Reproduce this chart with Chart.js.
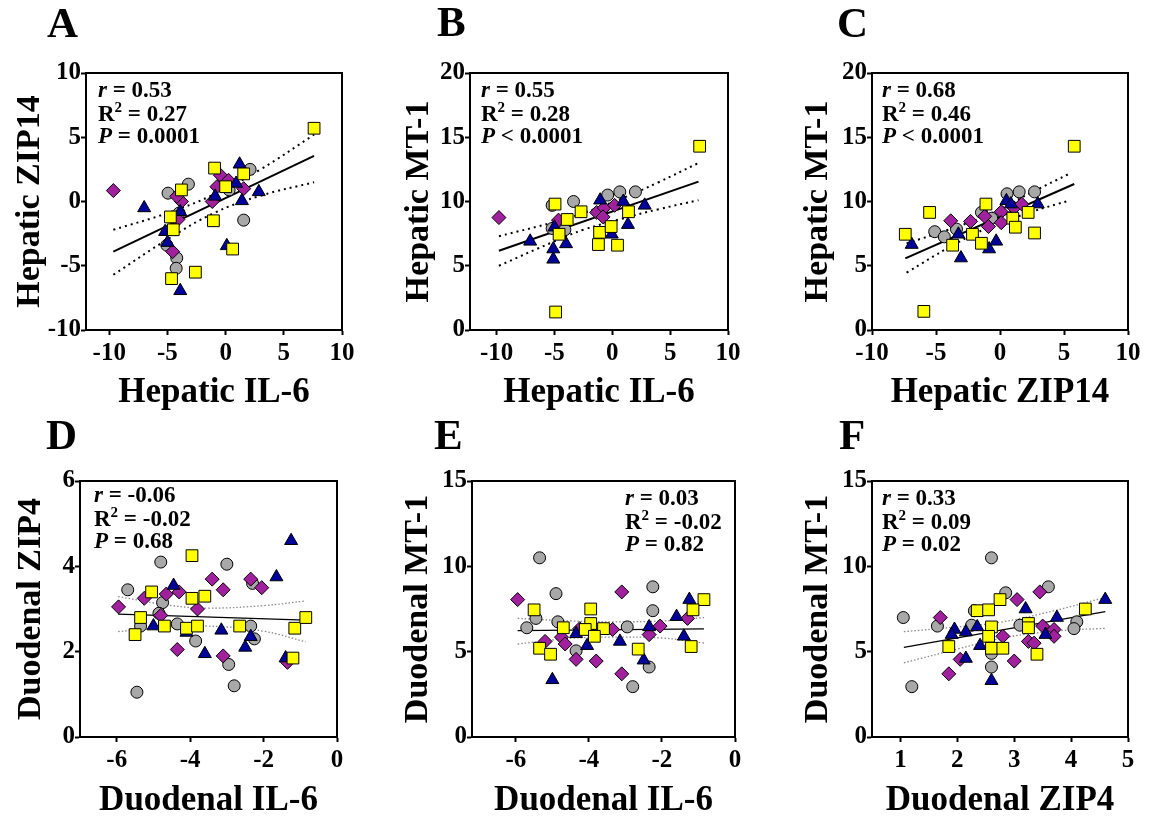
<!DOCTYPE html>
<html>
<head>
<meta charset="utf-8">
<script src="https://cdn.jsdelivr.net/npm/chart.js@4.4.1/dist/chart.umd.min.js"></script>
<style>
  body { margin: 0; background: #fff; width: 1151px; height: 819px; position: relative; overflow: hidden; }
  canvas { position: absolute; }
</style>
</head>
<body>
<canvas id="cA"></canvas>
<canvas id="cB"></canvas>
<canvas id="cC"></canvas>
<canvas id="cD"></canvas>
<canvas id="cE"></canvas>
<canvas id="cF"></canvas>
<script>
// ---- data ----
// groups: gray circles, purple diamonds, blue triangles, yellow squares
const aGray   = [[2.1,2.5],[-3.2,1.35],[-4.95,0.65],[1.55,-1.45],[0.3,0.9],[-4.2,-4.4],[-4.25,-5.2],[-5.05,-3.4],[-4.0,-0.9]]
const aPurple = [[-9.65,0.85],[-3.8,0.0],[-4.2,0.4],[-4.1,-1.4],[-4.55,-3.9],[-0.45,2.05],[0.25,1.65],[-0.75,1.15],[-1.15,0.0],[1.55,1.0]]
const aBlue   = [[1.2,2.9],[-7.0,-0.5],[1.4,0.05],[2.85,0.75],[0.1,-3.45],[-3.9,-6.95],[-5.2,-2.35],[-5.0,-3.2],[-3.9,-0.8],[0.9,1.4],[-0.9,0.4]]
const aYellow = [[-0.95,2.6],[1.55,2.15],[-3.8,0.9],[0.0,1.15],[-4.75,-1.2],[-4.5,-2.2],[-1.05,-1.5],[0.6,-3.7],[-2.6,-5.5],[-4.65,-6.0],[7.6,5.7]]
const aFit    = [[-9.65,-3.9],[7.6,3.55]]
const aUpper  = [[-9.65,-2.2],[-5,-0.9],[-1,0.55],[3,2.5],[7.6,5.2]]
const aLower  = [[-9.65,-5.7],[-5,-2.95],[-1,-0.9],[3,0.45],[7.6,1.5]]

const bGray   = [[-3.35,10.0],[-0.4,10.5],[0.65,10.75],[2.0,10.75],[-5.2,7.9],[-5.2,9.7],[-4.1,7.8]]
const bPurple = [[-9.8,8.75],[-4.65,8.55],[-1.35,9.15],[-0.7,9.5],[0.2,9.7],[-0.8,8.8]]
const bBlue   = [[-7.1,6.9],[-5.1,6.3],[-5.1,5.5],[-4.0,6.7],[2.8,9.7],[1.35,8.2],[-1.05,10.1],[-0.05,7.45],[0.95,10.0],[-5.0,8.0]]
const bYellow = [[7.55,14.3],[-4.95,9.8],[-3.9,8.6],[-2.7,9.2],[-4.6,7.45],[-1.1,7.6],[-1.2,6.65],[-0.1,8.05],[0.45,6.6],[1.4,9.2],[-4.9,1.4]]
const bFit    = [[-9.8,6.17],[7.45,11.55]]
const bUpper  = [[-9.8,7.3],[-5,8.4],[-2.5,9.1],[1,10.3],[4,11.5],[7.45,13.0]]
const bLower  = [[-9.8,5.0],[-5,6.9],[-2.5,7.8],[1,8.7],[4,9.4],[7.45,10.1]]

const cGray   = [[-5.1,7.65],[-4.35,7.25],[-3.4,7.85],[0.55,10.6],[1.5,10.75],[2.7,10.75],[-1.45,9.15],[-0.65,8.7]]
const cPurple = [[-3.85,8.5],[-2.3,8.45],[-1.2,8.85],[-0.9,8.05],[0.1,9.2],[0.1,8.35],[1.1,9.5],[1.7,9.8]]
const cBlue   = [[-6.9,6.65],[-3.05,5.6],[-3.25,7.45],[-0.85,6.3],[-0.3,6.9],[0.5,10.05],[0.85,9.8],[2.95,9.8]]
const cYellow = [[5.8,14.3],[-5.5,9.15],[-7.4,7.45],[-1.1,9.8],[-2.15,7.45],[-3.7,6.6],[-1.45,6.75],[1.0,8.7],[1.2,8.0],[2.2,9.15],[2.7,7.55],[-5.95,1.45]]
const cFit    = [[-7.4,5.58],[5.8,11.36]]
const cUpper  = [[-7.3,6.74],[-4,7.82],[-1,8.93],[2.5,10.72],[5.5,12.2]]
const cLower  = [[-7.3,4.46],[-4,6.42],[-1,7.93],[2.5,9.2],[5.5,10.1]]

const dGray   = [[-4.8,4.1],[-3.0,4.05],[-5.7,3.45],[-4.75,3.15],[-4.85,2.9],[-5.35,2.6],[-4.35,2.65],[-3.85,2.25],[-2.35,2.6],[-2.25,2.3],[-2.3,3.6],[-2.95,1.7],[-2.8,1.2],[-5.45,1.05]]
const dPurple = [[-5.95,3.05],[-5.25,3.25],[-4.65,3.35],[-4.3,3.4],[-3.4,3.7],[-3.1,3.45],[-3.8,3.0],[-4.8,2.85],[-4.35,2.05],[-3.1,1.9],[-2.35,3.7],[-2.05,3.5],[-1.35,1.75]]
const dBlue   = [[-1.25,4.6],[-1.65,3.75],[-4.45,3.55],[-5.0,2.6],[-3.15,2.5],[-3.6,1.95],[-2.35,2.35],[-2.5,2.1],[-1.4,1.85],[-4.1,2.45]]
const dYellow = [[-3.95,4.25],[-5.05,3.4],[-3.95,3.25],[-3.6,3.3],[-5.35,2.8],[-5.5,2.4],[-4.7,2.6],[-4.1,2.55],[-3.8,2.6],[-2.65,2.6],[-1.15,2.55],[-0.85,2.8],[-1.2,1.85]]
const dFit    = [[-5.96,2.88],[-0.85,2.74]]
const dUpper  = [[-5.96,3.29],[-4.5,3.08],[-3.5,3.02],[-2,3.08],[-0.85,3.19]]
const dLower  = [[-5.96,2.47],[-4.5,2.58],[-3.5,2.6],[-2,2.48],[-0.85,2.23]]

const eGray   = [[-5.35,10.5],[-4.9,8.4],[-5.7,6.4],[-5.45,6.95],[-4.85,6.75],[-4.35,5.05],[-2.95,6.45],[-2.25,8.8],[-2.25,7.4],[-2.35,4.1],[-2.8,2.95]]
const ePurple = [[-5.95,8.05],[-3.1,8.5],[-5.2,5.6],[-4.75,5.85],[-4.65,5.45],[-4.35,4.55],[-3.8,4.45],[-3.1,3.7],[-2.35,6.0],[-2.05,6.5],[-1.3,6.95],[-4.25,6.35],[-3.35,6.3]]
const eBlue   = [[-5.0,3.35],[-4.35,6.05],[-4.05,5.35],[-3.15,5.6],[-2.35,6.45],[-2.5,4.5],[-1.6,7.05],[-1.25,8.05],[-1.4,5.9]]
const eYellow = [[-5.5,7.45],[-3.95,7.5],[-0.85,8.05],[-1.15,7.45],[-4.7,6.4],[-3.95,6.65],[-4.1,6.3],[-3.6,6.35],[-3.85,5.9],[-5.35,5.2],[-5.05,4.85],[-2.65,5.15],[-1.2,5.3]]
const eFit    = [[-5.95,6.23],[-0.85,6.33]]
const eUpper  = [[-5.95,6.95],[-4.5,6.8],[-3.4,6.75],[-2,6.8],[-0.85,7.0]]
const eLower  = [[-5.95,5.45],[-4.5,5.78],[-3.4,5.85],[-2,5.8],[-0.85,5.5]]

const fGray   = [[2.6,10.5],[1.05,7.0],[1.2,2.95],[1.65,6.5],[2.3,7.4],[2.85,8.45],[3.6,8.8],[3.1,6.55],[4.1,6.75],[4.05,6.35],[2.6,4.1],[2.25,6.55],[2.6,4.9]]
const fPurple = [[1.7,7.0],[2.05,4.55],[1.85,3.7],[3.05,8.05],[3.45,8.5],[2.8,5.9],[3.0,4.45],[3.25,5.6],[3.35,5.5],[3.5,6.5],[3.7,6.3],[3.7,5.9]]
const fBlue   = [[4.6,8.05],[3.2,7.5],[3.75,7.0],[1.95,6.3],[2.15,6.15],[2.35,6.45],[1.9,6.0],[2.4,5.35],[2.15,4.6],[2.6,3.3],[3.55,6.0]]
const fYellow = [[2.75,8.05],[2.35,7.4],[2.55,7.45],[4.25,7.5],[2.6,6.45],[3.25,6.65],[3.25,6.4],[2.55,5.9],[1.85,5.3],[2.6,5.2],[2.8,5.2],[3.4,4.85]]
const fFit    = [[1.06,5.25],[4.6,7.34]]
const fUpper  = [[1.06,6.17],[2,6.45],[2.8,6.75],[3.7,7.4],[4.6,8.18]]
const fLower  = [[1.06,4.35],[2,5.15],[2.8,5.8],[3.7,6.2],[4.6,6.37]]

// tick labels
const ticksHep   = [-10, -5, 0, 5, 10]
const ticksMT20  = [0, 5, 10, 15, 20]
const ticksZip4  = [0, 2, 4, 6]
const ticksMT15  = [0, 5, 10, 15]
const ticksDuoIL = [-6, -4, -2, 0]
const ticksDuoZ4 = [1, 2, 3, 4, 5]

// stats text
const panelLetters = ['A', 'B', 'C', 'D', 'E', 'F']
const rValues  = ['0.53', '0.55', '0.68', '-0.06', '0.03', '0.33']
const r2Values = ['0.27', '0.28', '0.46', '-0.02', '-0.02', '0.09']
const pValues  = ['= 0.0001', '< 0.0001', '< 0.0001', '= 0.68', '= 0.82', '= 0.02']

const SERIF = "'Liberation Serif', 'Times New Roman', serif"
Chart.defaults.font.family = SERIF
Chart.defaults.color = '#000'

// marker look per group (gray, purple, blue, yellow)
const markers = [
  { bg: '#A8A8A8', style: 'circle',   r: 6,   order: 4 },
  { bg: '#A0209E', style: 'rectRot',  r: 7,   order: 3 },
  { bg: '#00009A', style: 'triangle', r: 7.5, order: 2 },
  { bg: '#FFFF00', style: 'rect',     r: 8.3, order: 1 }
]

const toXY = arr => arr.map(([x, y]) => ({ x, y }))

// draws the frame, the panel letter and the r / R2 / P lines
const panelText = {
  id: 'panelText',
  afterDraw(chart, args, o) {
    const { ctx, chartArea: a } = chart
    ctx.save()
    ctx.strokeStyle = '#000'
    ctx.lineWidth = 2
    ctx.beginPath()
    ctx.moveTo(a.left - 1, a.top)
    ctx.lineTo(a.right, a.top)
    ctx.lineTo(a.right, a.bottom)
    ctx.stroke()

    ctx.fillStyle = '#000'
    ctx.textAlign = 'left'
    ctx.textBaseline = 'alphabetic'
    ctx.font = 'bold 43px ' + SERIF
    ctx.fillText(o.letter, o.letterX, o.letterY)

    const runs = (x, y, parts) => {
      parts.forEach(p => {
        const size = p.sup ? 15 : 23
        ctx.font = (p.it ? 'italic ' : '') + 'bold ' + size + 'px ' + SERIF
        ctx.fillText(p.t, x, p.sup ? y - 9 : y)
        x += ctx.measureText(p.t).width
      })
    }
    const x0 = a.left + o.dx
    const y0 = a.top + o.dy
    runs(x0, y0, [{ t: 'r', it: true }, { t: ' = ' + o.r }])
    runs(x0, y0 + 24, [{ t: 'R' }, { t: '2', sup: true }, { t: ' = ' + o.r2 }])
    runs(x0, y0 + 46, [{ t: 'P', it: true }, { t: ' ' + o.p }])
    ctx.restore()
  }
}

const panels = [
  { id: 'cA', left: 0,   top: 0,   w: 380, h: 410, yW: 86,  xH: 80, padTop: 73, padRight: 38, xMin: -12,   xMax: 10, yMin: -10, yMax: 10,
    xTicks: ticksHep, yTicks: ticksHep, xTitle: 'Hepatic IL-6', yTitle: 'Hepatic ZIP14', yTitlePad: 13, xTitlePad: 0,
    groups: [aGray, aPurple, aBlue, aYellow], fit: aFit, upper: aUpper, lower: aLower, thin: false,
    letterX: 47, letterY: 37, dx: 12, dy: 24 },
  { id: 'cB', left: 380, top: 0,   w: 380, h: 410, yW: 90,  xH: 80, padTop: 73, padRight: 32, xMin: -12.3, xMax: 10, yMin: 0, yMax: 20,
    xTicks: ticksHep, yTicks: ticksMT20, xTitle: 'Hepatic IL-6', yTitle: 'Hepatic MT-1', yTitlePad: 22, xTitlePad: 0,
    groups: [bGray, bPurple, bBlue, bYellow], fit: bFit, upper: bUpper, lower: bLower, thin: false,
    letterX: 57, letterY: 36, dx: 11, dy: 24 },
  { id: 'cC', left: 760, top: 0,   w: 391, h: 410, yW: 112, xH: 80, padTop: 73, padRight: 23, xMin: -10,   xMax: 10, yMin: 0, yMax: 20,
    xTicks: ticksHep, yTicks: ticksMT20, xTitle: 'Hepatic ZIP14', yTitle: 'Hepatic MT-1', yTitlePad: 41, xTitlePad: 0,
    groups: [cGray, cPurple, cBlue, cYellow], fit: cFit, upper: cUpper, lower: cLower, thin: false,
    letterX: 77, letterY: 37, dx: 10, dy: 24 },
  { id: 'cD', left: 0,   top: 410, w: 380, h: 409, yW: 80,  xH: 82, padTop: 71, padRight: 43, xMin: -7,    xMax: 0,  yMin: 0, yMax: 6,
    xTicks: ticksDuoIL, yTicks: ticksZip4, xTitle: 'Duodenal IL-6', yTitle: 'Duodenal ZIP4', yTitlePad: 14, xTitlePad: 1,
    groups: [dGray, dPurple, dBlue, dYellow], fit: dFit, upper: dUpper, lower: dLower, thin: true,
    letterX: 46, letterY: 39, dx: 14, dy: 21 },
  { id: 'cE', left: 380, top: 410, w: 380, h: 409, yW: 92,  xH: 82, padTop: 71, padRight: 25, xMin: -7.2,  xMax: 0,  yMin: 0, yMax: 15,
    xTicks: ticksDuoIL, yTicks: ticksMT15, xTitle: 'Duodenal IL-6', yTitle: 'Duodenal MT-1', yTitlePad: 21, xTitlePad: 1,
    groups: [eGray, ePurple, eBlue, eYellow], fit: eFit, upper: eUpper, lower: eLower, thin: true,
    letterX: 54, letterY: 39, dx: 153, dy: 24 },
  { id: 'cF', left: 760, top: 410, w: 391, h: 409, yW: 112, xH: 82, padTop: 71, padRight: 23, xMin: 0.5,   xMax: 5,  yMin: 0, yMax: 15,
    xTicks: ticksDuoZ4, yTicks: ticksMT15, xTitle: 'Duodenal ZIP4', yTitle: 'Duodenal MT-1', yTitlePad: 41, xTitlePad: 1,
    groups: [fGray, fPurple, fBlue, fYellow], fit: fFit, upper: fUpper, lower: fLower, thin: true,
    letterX: 79, letterY: 39, dx: 10, dy: 24 }
]

panels.forEach((p, i) => {
  const canvas = document.getElementById(p.id)
  canvas.width = p.w
  canvas.height = p.h
  canvas.style.left = p.left + 'px'
  canvas.style.top = p.top + 'px'

  const pointSets = p.groups.map((g, k) => ({
    data: toXY(g),
    backgroundColor: markers[k].bg,
    borderColor: '#000',
    borderWidth: 1,
    pointStyle: markers[k].style,
    pointRadius: markers[k].r,
    order: markers[k].order
  }))

  const dotColor = p.thin ? '#8a8a8a' : '#000'
  const lineSets = [
    { data: toXY(p.fit), showLine: true, borderColor: '#000', borderWidth: p.thin ? 1.3 : 2, pointRadius: 0, order: 5 },
    { data: toXY(p.upper), showLine: true, borderColor: dotColor, borderWidth: p.thin ? 1.3 : 2,
      borderDash: p.thin ? [1.5, 2] : [2, 4], tension: 0.4, pointRadius: 0, order: 6 },
    { data: toXY(p.lower), showLine: true, borderColor: dotColor, borderWidth: p.thin ? 1.3 : 2,
      borderDash: p.thin ? [1.5, 2] : [2, 4], tension: 0.4, pointRadius: 0, order: 6 }
  ]

  new Chart(canvas, {
    type: 'scatter',
    data: { datasets: [...pointSets, ...lineSets] },
    options: {
      responsive: false,
      animation: false,
      events: [],
      layout: { padding: { top: p.padTop, right: p.padRight, left: 0, bottom: 0 } },
      plugins: {
        legend: { display: false },
        tooltip: { enabled: false },
        panelText: {
          letter: panelLetters[i], letterX: p.letterX, letterY: p.letterY,
          dx: p.dx, dy: p.dy, r: rValues[i], r2: r2Values[i], p: pValues[i]
        }
      },
      scales: {
        x: {
          type: 'linear',
          min: p.xMin,
          max: p.xMax,
          afterBuildTicks: s => { s.ticks = p.xTicks.map(v => ({ value: v })) },
          afterFit: s => { s.height = p.xH },
          grid: { drawOnChartArea: false, drawTicks: true, tickLength: 5, tickWidth: 2, tickColor: '#000' },
          border: { color: '#000', width: 2 },
          ticks: { color: '#000', padding: 4, maxRotation: 0, font: { size: 25, weight: 'bold' } },
          title: {
            display: true, text: p.xTitle, color: '#000',
            font: { size: 35, weight: 'bold', lineHeight: 1 },
            padding: { top: 0, bottom: p.xTitlePad }
          }
        },
        y: {
          type: 'linear',
          min: p.yMin,
          max: p.yMax,
          afterBuildTicks: s => { s.ticks = p.yTicks.map(v => ({ value: v })) },
          afterFit: s => { s.width = p.yW },
          grid: { drawOnChartArea: false, drawTicks: true, tickLength: 5, tickWidth: 2, tickColor: '#000' },
          border: { color: '#000', width: 2 },
          ticks: { color: '#000', padding: 0, font: { size: 25, weight: 'bold' } },
          title: {
            display: true, text: p.yTitle, color: '#000',
            font: { size: 34, weight: 'bold', lineHeight: 1 },
            padding: { top: p.yTitlePad, bottom: 0 }
          }
        }
      }
    },
    plugins: [panelText]
  })
})
</script>
</body>
</html>
